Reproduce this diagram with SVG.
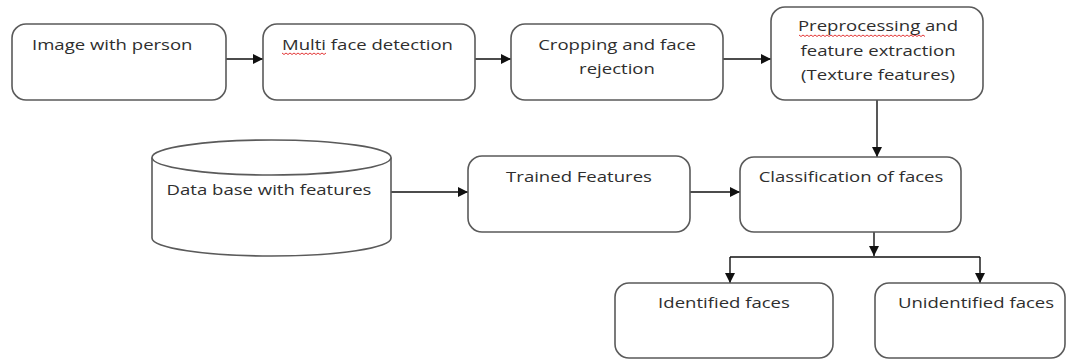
<svg xmlns="http://www.w3.org/2000/svg" width="1067" height="360" viewBox="0 0 1067 360">
<style>
.box{fill:#fff;stroke:#5a5a5a;stroke-width:1.6}
.t{font-family:"Open Sans","DejaVu Sans",sans-serif;font-size:15px;fill:#2e2e2e}
.c{text-anchor:middle}
.ln{stroke:#111;stroke-width:1.4;fill:none}
.sq{stroke:#e02020;stroke-width:0.9;fill:none}
</style>
<defs>
<marker id="ah" viewBox="0 0 10 10" refX="10" refY="5" markerWidth="10" markerHeight="10" markerUnits="userSpaceOnUse" orient="auto">
<path d="M0,0 L10,5 L0,10 z" fill="#111"/>
</marker>
</defs>
<rect width="1067" height="360" fill="#fff"/>
<g id="connectors">
<line class="ln" x1="226" y1="59" x2="263" y2="59" marker-end="url(#ah)"/>
<line class="ln" x1="475" y1="59" x2="511" y2="59" marker-end="url(#ah)"/>
<line class="ln" x1="723" y1="59" x2="771" y2="59" marker-end="url(#ah)"/>
<line class="ln" x1="877" y1="100" x2="877" y2="157" marker-end="url(#ah)"/>
<line class="ln" x1="391" y1="192" x2="468" y2="192" marker-end="url(#ah)"/>
<line class="ln" x1="690" y1="192" x2="740" y2="192" marker-end="url(#ah)"/>
<line class="ln" x1="874" y1="232" x2="874" y2="256" marker-end="url(#ah)"/>
<line class="ln" x1="730" y1="257" x2="980" y2="257"/>
<line class="ln" x1="730" y1="257" x2="730" y2="283" marker-end="url(#ah)"/>
<line class="ln" x1="980" y1="257" x2="980" y2="283" marker-end="url(#ah)"/>
</g>
<g id="image-with-person">
<rect class="box" x="12" y="24" width="214" height="76" rx="14"/>
<text class="t" transform="translate(32 50) scale(1.237 1)">Image with person</text>
</g>
<g id="multi-face-detection">
<rect class="box" x="263" y="24" width="212" height="76" rx="14"/>
<text class="t" transform="translate(282 50) scale(1.237 1)">Multi face detection</text>
<path class="sq" d="M282,53 l2,1.5 l2,-1.5 l2,1.5 l2,-1.5 l2,1.5 l2,-1.5 l2,1.5 l2,-1.5 l2,1.5 l2,-1.5 l2,1.5 l2,-1.5 l2,1.5 l2,-1.5 l2,1.5 l2,-1.5 l2,1.5 l2,-1.5 l2,1.5 l2,-1.5 l2,1.5 l2,-1.5"/>
</g>
<g id="cropping">
<rect class="box" x="511" y="24" width="212" height="76" rx="14"/>
<text class="t c" transform="translate(617 50) scale(1.237 1)">Cropping and face</text>
<text class="t c" transform="translate(617 74) scale(1.237 1)">rejection</text>
</g>
<g id="preprocessing">
<rect class="box" x="771" y="7" width="212" height="93" rx="14"/>
<text class="t c" transform="translate(878 31) scale(1.237 1)">Preprocessing and</text>
<text class="t c" transform="translate(878 56) scale(1.237 1)">feature extraction</text>
<text class="t c" transform="translate(878 80) scale(1.237 1)">(Texture features)</text>
<path class="sq" d="M799,35 l2,1.5 l2,-1.5 l2,1.5 l2,-1.5 l2,1.5 l2,-1.5 l2,1.5 l2,-1.5 l2,1.5 l2,-1.5 l2,1.5 l2,-1.5 l2,1.5 l2,-1.5 l2,1.5 l2,-1.5 l2,1.5 l2,-1.5 l2,1.5 l2,-1.5 l2,1.5 l2,-1.5 l2,1.5 l2,-1.5 l2,1.5 l2,-1.5 l2,1.5 l2,-1.5 l2,1.5 l2,-1.5 l2,1.5 l2,-1.5 l2,1.5 l2,-1.5 l2,1.5 l2,-1.5 l2,1.5 l2,-1.5 l2,1.5 l2,-1.5 l2,1.5 l2,-1.5 l2,1.5 l2,-1.5 l2,1.5 l2,-1.5 l2,1.5 l2,-1.5 l2,1.5 l2,-1.5 l2,1.5 l2,-1.5 l2,1.5 l2,-1.5 l2,1.5 l2,-1.5 l2,1.5 l2,-1.5 l2,1.5 l2,-1.5 l2,1.5 l2,-1.5 l2,1.5"/>
</g>
<g id="database">
<path class="box" d="M152,157.5 L152,238 A119.5,18 0 0 0 391,238 L391,157.5"/>
<ellipse class="box" cx="271.5" cy="157.5" rx="119.5" ry="17.5"/>
<text class="t c" transform="translate(269 195) scale(1.237 1)">Data base with features</text>
</g>
<g id="trained-features">
<rect class="box" x="468" y="156" width="222" height="76" rx="14"/>
<text class="t c" transform="translate(579 182) scale(1.237 1)">Trained Features</text>
</g>
<g id="classification">
<rect class="box" x="740" y="157" width="221" height="75" rx="14"/>
<text class="t c" transform="translate(851 182) scale(1.237 1)">Classification of faces</text>
</g>
<g id="identified">
<rect class="box" x="615" y="283" width="218" height="75" rx="14"/>
<text class="t c" transform="translate(724 308) scale(1.237 1)">Identified faces</text>
</g>
<g id="unidentified">
<rect class="box" x="875" y="283" width="190" height="75" rx="14"/>
<text class="t c" transform="translate(976 308) scale(1.237 1)">Unidentified faces</text>
</g>
</svg>
